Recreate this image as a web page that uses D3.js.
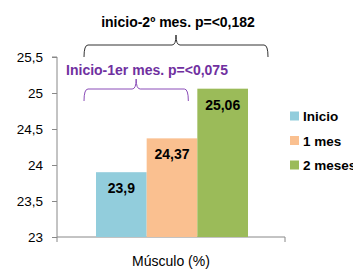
<!DOCTYPE html>
<html>
<head>
<meta charset="utf-8">
<script src="https://cdn.jsdelivr.net/npm/d3@7"></script>
<style>
  body { margin: 0; background: #fff; }
  svg { display: block; }
</style>
</head>
<body>
<div id="chart"></div>
<script>
// data
const series = ["Inicio", "1 mes", "2 meses"];
const values = [23.9, 24.37, 25.06];
const valueLabels = ["23,9", "24,37", "25,06"];
const colours = ["#92CDDC", "#FAC090", "#9BBB59"];
const yTicks = [23, 23.5, 24, 24.5, 25, 25.5];
const yTickLabels = ["23", "23,5", "24", "24,5", "25", "25,5"];
const category = "Músculo (%)";
const notes = [
  { text: "inicio-2º mes. p=<0,182", from: 0, to: 2, colour: "#000000" },
  { text: "Inicio-1er mes. p=<0,075", from: 0, to: 1, colour: "#7030A0" }
];

const width = 353, height = 269;
const font = "'Liberation Sans', Arial, sans-serif";

const svg = d3.select("#chart").append("svg")
  .attr("width", width)
  .attr("height", height);

const y = d3.scaleLinear().domain([23, 25.5]).range([237, 57]);
const xOuter = d3.scaleBand().domain([category]).range([57, 285]);
const x = d3.scaleBand().domain(series).range([96, 248]);

// y axis
const yAxis = d3.axisLeft(y)
  .tickValues(yTicks)
  .tickFormat((d, i) => yTickLabels[i])
  .tickSize(5)
  .tickPadding(9);

const gy = svg.append("g").attr("transform", "translate(57,0)").call(yAxis);
gy.select(".domain").attr("stroke", "#888").attr("d", `M-5,${y(25.5)}H0V${y(23)}`);
gy.selectAll(".tick line").attr("stroke", "#888");
gy.selectAll(".tick text").attr("font-family", font).attr("font-size", 13.5).attr("fill", "#000");

// x axis
const xAxis = d3.axisBottom(xOuter).tickSize(0).tickFormat(() => "");
const gx = svg.append("g").attr("transform", `translate(0,${y(23)})`).call(xAxis);
gx.select(".domain").attr("stroke", "#888").attr("d", `M57,5V0H285V5`);

svg.append("text")
  .attr("x", xOuter(category) + xOuter.bandwidth() / 2 - 0)
  .attr("y", 266)
  .attr("text-anchor", "middle")
  .attr("font-family", font)
  .attr("font-size", 14)
  .text(category);

// bars
svg.selectAll("rect.bar")
  .data(values)
  .enter()
  .append("rect")
  .attr("class", "bar")
  .attr("x", (d, i) => x(series[i]))
  .attr("y", d => y(d))
  .attr("width", x.bandwidth())
  .attr("height", d => y(23) - y(d))
  .attr("fill", (d, i) => colours[i]);

svg.selectAll("text.val")
  .data(values)
  .enter()
  .append("text")
  .attr("class", "val")
  .attr("x", (d, i) => x(series[i]) + x.bandwidth() / 2)
  .attr("y", d => y(d) + 21)
  .attr("text-anchor", "middle")
  .attr("font-family", font)
  .attr("font-weight", "bold")
  .attr("font-size", 14)
  .text((d, i) => valueLabels[i]);

// legend
const legend = svg.append("g");
series.forEach((s, i) => {
  const ly = 116 + i * 24.5;
  legend.append("rect")
    .attr("x", 290).attr("y", ly - 4.5)
    .attr("width", 9).attr("height", 9)
    .attr("fill", colours[i]);
  legend.append("text")
    .attr("x", 303).attr("y", ly + 5)
    .attr("font-family", font)
    .attr("font-weight", "bold")
    .attr("font-size", 13.5)
    .text(s);
});

// curly brackets with p-values
function brace(x0, x1, yTop, drop, tip) {
  const xm = (x0 + x1) / 2;
  return `M${x0},${yTop + drop} Q${x0},${yTop} ${x0 + 4},${yTop}` +
    ` H${xm - 4} Q${xm},${yTop} ${xm},${yTop - tip}` +
    ` Q${xm},${yTop} ${xm + 4},${yTop} H${x1 - 4}` +
    ` Q${x1},${yTop} ${x1},${yTop + drop}`;
}

const braceLevels = [{ top: 45, textY: 27 }, { top: 89, textY: 75 }];
notes.forEach((n, i) => {
  const x0 = x(series[n.from]) - 12;
  const x1 = n.to === 2 ? x(series[n.to]) + x.bandwidth() + 20 : x(series[n.to]) + x.bandwidth() - 9;
  const lv = braceLevels[i];
  svg.append("path")
    .attr("d", brace(x0, x1, lv.top, 12, 10))
    .attr("fill", "none")
    .attr("stroke", n.colour === "#000000" ? "#333" : "#8a4cb8")
    .attr("stroke-width", 1);
  svg.append("text")
    .attr("x", i === 0 ? 178 : 147)
    .attr("y", lv.textY)
    .attr("text-anchor", "middle")
    .attr("font-family", font)
    .attr("font-weight", "bold")
    .attr("font-size", 14)
    .attr("fill", n.colour)
    .text(n.text);
});
</script>
</body>
</html>
